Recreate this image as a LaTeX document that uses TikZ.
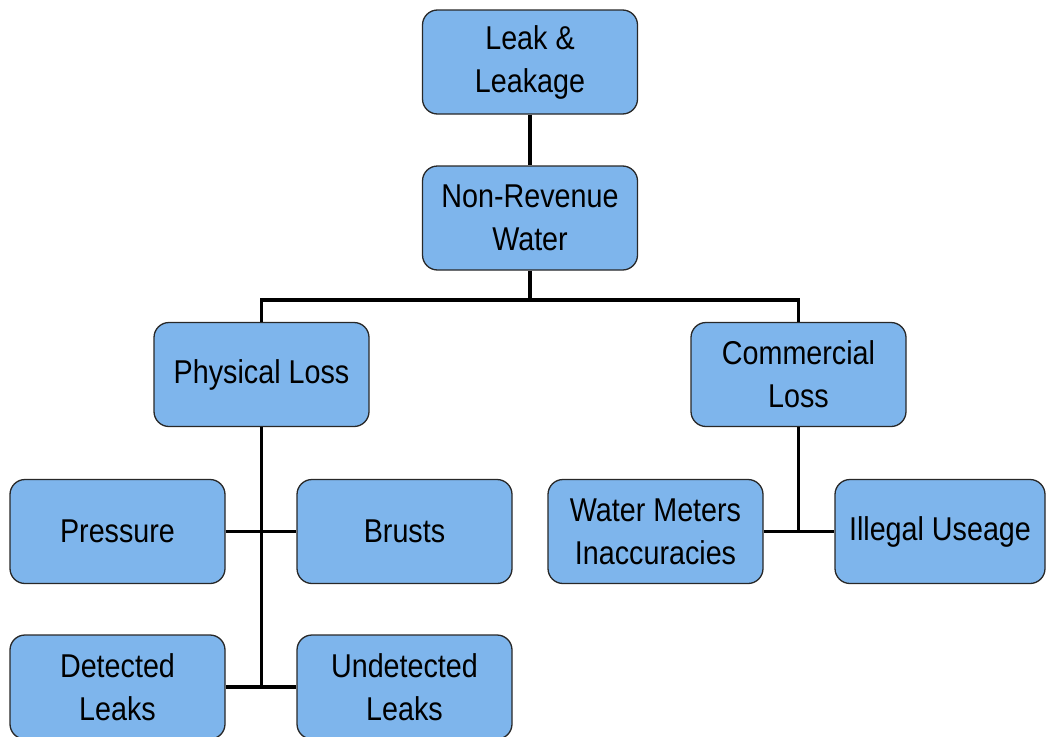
\documentclass[tikz,border=0pt]{standalone}
\usepackage{fontspec}
\setmainfont[FakeStretch=0.87]{Liberation Sans}
\definecolor{boxfill}{RGB}{126,181,236}
\definecolor{boxline}{RGB}{40,40,40}
\begin{document}
\begin{tikzpicture}[x=1pt,y=-1pt,
  box/.style={draw=boxline,line width=1.3pt,fill=boxfill,rounded corners=15pt,
    minimum width=215pt,minimum height=104pt,inner sep=0pt,align=center,
    font=\fontsize{33}{43}\selectfont},
  link/.style={line width=3.2pt,black}]
\useasboundingbox (0,0) rectangle (1046,736);
\clip (0,0) rectangle (1046,736);
\node[box] (leak) at (530,62) {Leak \&\\Leakage};
\node[box] (nrw) at (530,218) {Non-Revenue\\Water};
\node[box] (phys) at (261.5,374.5) {Physical Loss};
\node[box] (comm) at (798.5,374.5) {Commercial\\Loss};
\node[box] (press) at (117.5,531.5) {Pressure};
\node[box] (brusts) at (404.5,531.5) {Brusts};
\node[box] (det) at (117.5,687) {Detected\\Leaks};
\node[box] (undet) at (404.5,687) {Undetected\\Leaks};
\node[box] (wm) at (655.5,531.5) {Water Meters\\Inaccuracies};
\node[box,minimum width=210pt] (ill) at (940,531.5) {Illegal Useage};
\coordinate (bus) at (530,300);
\draw[link] (leak) -- (nrw);
\draw[link] (nrw.south) -- (bus);
\draw[link] (phys.north) |- (bus) -| (comm.north);
\draw[link] (phys.south) -- (phys.south |- det.east);
\draw[link] (press.east) -- (brusts.west);
\draw[link] (det.east) -- (undet.west);
\draw[link] (comm.south) -- (comm.south |- wm.east);
\draw[link] (wm.east) -- (ill.west);
\end{tikzpicture}
\end{document}
